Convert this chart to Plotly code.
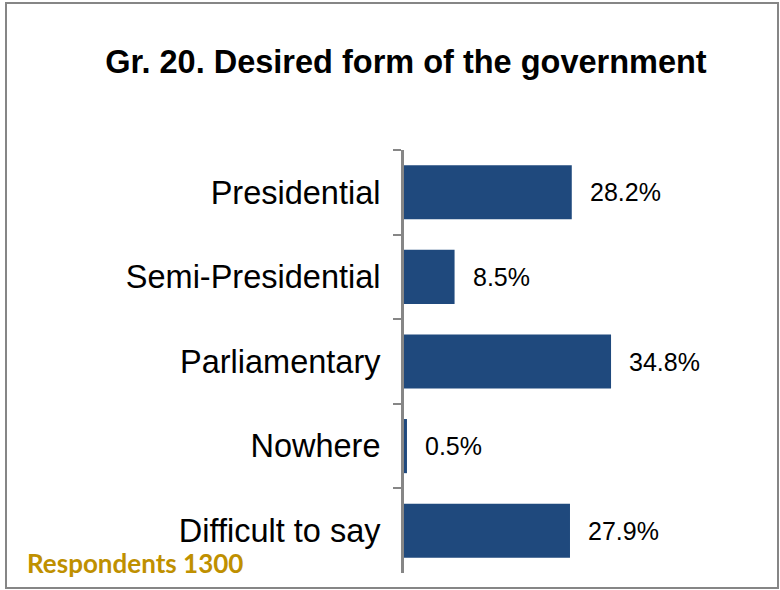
import plotly.graph_objects as go

# Survey data
categories = ["Presidential", "Semi-Presidential", "Parliamentary", "Nowhere", "Difficult to say"]
shares = [28.2, 8.5, 34.8, 0.5, 27.9]
value_labels = ["28.2%", "8.5%", "34.8%", "0.5%", "27.9%"]
title_text = "Gr. 20. Desired form of the government"
note_text = "Respondents 1300"

# Canvas and plot-area geometry (pixels)
W, H = 780, 590
ML, MR, MT, MB = 404, 141, 150, 17
PW, PH = W - ML - MR, H - MT - MB


def px_to_paper_x(px):
    return (px - ML) / PW


def px_to_paper_y(py):
    return (H - MB - py) / PH


BAR_COLOR = "#1F497D"
AXIS_GRAY = "#868686"
FONT = "Liberation Sans, Arial, sans-serif"

fig = go.Figure(
    go.Bar(
        x=shares,
        y=categories,
        orientation="h",
        marker=dict(color=BAR_COLOR, line=dict(width=0)),
        hoverinfo="skip",
    )
)

# Value labels just to the right of each bar end
for cat, val, lab in zip(categories, shares, value_labels):
    fig.add_annotation(
        x=val, y=cat, xref="x", yref="y",
        text=lab, showarrow=False,
        xanchor="left", yanchor="middle", xshift=16,
        font=dict(family=FONT, size=25, color="#000000"),
    )

# Sample size note
fig.add_annotation(
    x=px_to_paper_x(25), y=px_to_paper_y(563), xref="paper", yref="paper",
    text=f"<b>{note_text}</b>", showarrow=False,
    xanchor="left", yanchor="middle",
    font=dict(family="Lato, Open Sans, sans-serif", size=26, color="#BF9000"),
)

# Outer frame around the whole chart
fig.add_shape(
    type="rect", xref="paper", yref="paper",
    x0=px_to_paper_x(6), x1=px_to_paper_x(778),
    y0=px_to_paper_y(588), y1=px_to_paper_y(3),
    line=dict(color=AXIS_GRAY, width=2), fillcolor="rgba(0,0,0,0)",
    layer="below",
)

fig.update_layout(
    width=W, height=H,
    margin=dict(l=ML, r=MR, t=MT, b=MB, pad=0),
    paper_bgcolor="white", plot_bgcolor="white",
    bargap=0.36,
    showlegend=False,
    title=dict(
        text=f"<b>{title_text}</b>",
        x=406 / W, xanchor="center", xref="container",
        y=1 - 62 / H, yanchor="middle", yref="container",
        font=dict(family=FONT, size=32.5, color="#000000"),
    ),
    xaxis=dict(
        range=[0, 39.5], visible=False, showgrid=False, zeroline=False,
    ),
    yaxis=dict(
        categoryorder="array", categoryarray=categories, autorange="reversed",
        showline=True, linecolor=AXIS_GRAY, linewidth=3,
        ticks="outside", tickson="boundaries", ticklen=8, tickwidth=2,
        tickcolor=AXIS_GRAY, ticklabelstandoff=14,
        showgrid=False, zeroline=False,
        tickfont=dict(family=FONT, size=32.5, color="#000000"),
    ),
)

fig.write_html("out.html")
